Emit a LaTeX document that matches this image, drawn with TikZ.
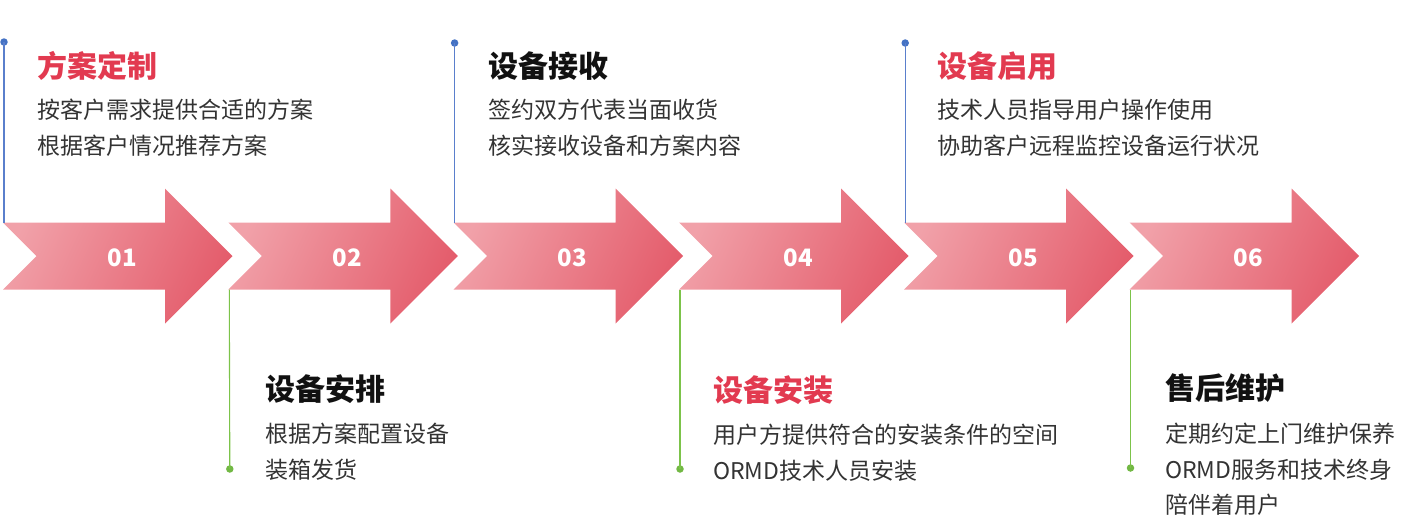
\documentclass[tikz,border=0pt]{standalone}
\usepackage{fontspec}
\setmainfont{Noto Sans CJK SC}
\definecolor{arrowL}{HTML}{F1A1A9}
\definecolor{arrowR}{HTML}{E45D6C}
\definecolor{titlered}{HTML}{E23A50}
\definecolor{titleblack}{HTML}{111111}
\definecolor{bodytext}{HTML}{333333}
\definecolor{lineblue}{HTML}{5A7FCC}
\definecolor{dotblue}{HTML}{4472C4}
\definecolor{linegreen}{HTML}{7CC34A}
\definecolor{dotgreen}{HTML}{72B844}
\begin{document}
\begin{tikzpicture}[x=1pt,y=-1pt,
  arrowshape/.style={top color=arrowL, bottom color=arrowR, shading angle=65, draw=none},
  numlabel/.style={anchor=base, inner sep=0, text=white, font=\fontsize{24}{24}\selectfont\bfseries},
  titletext/.style={anchor=base west, inner sep=0, font=\fontsize{30}{30}\selectfont\bfseries},
  bodyline/.style={anchor=base west, inner sep=0, text=bodytext, font=\fontsize{23}{23}\selectfont},
  blueline/.style={draw=lineblue, line width=1.1pt},
  greenline/.style={draw=linegreen, line width=1.1pt},
  bluedot/.style={circle, fill=dotblue, inner sep=0, minimum size=7.5pt},
  greendot/.style={circle, fill=dotgreen, inner sep=0, minimum size=7.5pt}]
\useasboundingbox (0,0) rectangle (1414,520);
% arrows
\foreach \n/\L in {1/3,2/228.3,3/453.6,4/679,5/904.2,6/1129.5}{
  \shade[arrowshape] (\L,222.5) -- (\L+162,222.5) -- (\L+162,188.5) -- (\L+229.5,256)
    -- (\L+162,323.5) -- (\L+162,289.5) -- (\L,289.5) -- (\L+33.5,256) -- cycle;
  \coordinate (top\n) at (\L+1,222.5);
  \coordinate (bot\n) at (\L+1,289.5);
  \node[numlabel] (num\n) at (\L+119,266.5) {0\n};
}
% connectors
\node[bluedot] (d1) at (4,42) {};
\node[bluedot] (d3) at (454.6,43) {};
\node[bluedot] (d5) at (905.2,43) {};
\node[greendot] (d2) at (229.8,469) {};
\node[greendot] (d4) at (680,469) {};
\node[greendot] (d6) at (1130.5,468) {};
\draw[blueline] (d1.center) -- (top1);
\draw[blueline] (d3.center) -- (top3);
\draw[blueline] (d5.center) -- (top5);
\draw[greenline] (bot2) -- (d2.center);
\draw[greenline] (bot4) -- (d4.center);
\draw[greenline] (bot6) -- (d6.center);
% top texts
\node[titletext, text=titlered] (t1) at (37,77) {方案定制};
\node[bodyline] (b1a) at (37,118) {按客户需求提供合适的方案};
\node[bodyline] (b1b) at (37,154) {根据客户情况推荐方案};
\node[titletext, text=titleblack] (t3) at (488,77) {设备接收};
\node[bodyline] (b3a) at (488,118) {签约双方代表当面收货};
\node[bodyline] (b3b) at (488,154) {核实接收设备和方案内容};
\node[titletext, text=titlered] (t5) at (937,77) {设备启用};
\node[bodyline] (b5a) at (937,118) {技术人员指导用户操作使用};
\node[bodyline] (b5b) at (937,154) {协助客户远程监控设备运行状况};
% bottom texts
\node[titletext, text=titleblack] (t2) at (265,400) {设备安排};
\node[bodyline] (b2a) at (265,442.5) {根据方案配置设备};
\node[bodyline] (b2b) at (265,478) {装箱发货};
\node[titletext, text=titlered] (t4) at (713,401) {设备安装};
\node[bodyline] (b4a) at (713,443) {用户方提供符合的安装条件的空间};
\node[bodyline] (b4b) at (713,479) {ORMD技术人员安装};
\node[titletext, text=titleblack] (t6) at (1165,399) {售后维护};
\node[bodyline] (b6a) at (1165,442.5) {定期约定上门维护保养};
\node[bodyline] (b6b) at (1165,478) {ORMD服务和技术终身};
\node[bodyline] (b6c) at (1165,513.5) {陪伴着用户};
\end{tikzpicture}
\end{document}
